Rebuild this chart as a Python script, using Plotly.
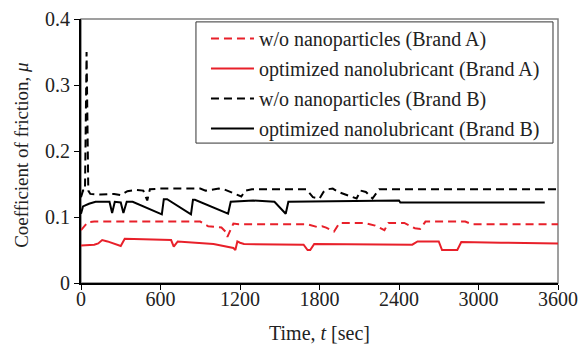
import plotly.graph_objects as go

# ---- data ----
t_A_wo = [0, 50, 100, 900, 960, 1010, 1060, 1090, 1105, 1150, 1190, 1710, 1780, 1820, 1850, 1910, 1950, 2140, 2220, 2290, 2320, 2440, 2520, 2560, 2600, 2900, 2950, 3600]
mu_A_wo = [0.080, 0.092, 0.093, 0.093, 0.086, 0.085, 0.084, 0.078, 0.070, 0.090, 0.089, 0.089, 0.085, 0.086, 0.084, 0.078, 0.091, 0.091, 0.087, 0.080, 0.091, 0.091, 0.083, 0.082, 0.093, 0.093, 0.089, 0.089]

t_A_opt = [0, 100, 130, 160, 200, 280, 300, 330, 680, 700, 730, 1000, 1150, 1165, 1180, 1200, 1230, 1680, 1710, 1730, 1760, 2500, 2540, 2700, 2725, 2840, 2870, 3170, 3600]
mu_A_opt = [0.057, 0.058, 0.060, 0.065, 0.063, 0.057, 0.056, 0.067, 0.065, 0.055, 0.063, 0.059, 0.053, 0.050, 0.063, 0.061, 0.059, 0.058, 0.050, 0.050, 0.059, 0.058, 0.063, 0.063, 0.050, 0.050, 0.062, 0.061, 0.060]

t_B_wo = [0, 15, 30, 42, 55, 70, 150, 250, 300, 350, 420, 470, 500, 520, 600, 900, 940, 990, 1040, 1080, 1130, 1210, 1240, 1290, 1700, 1750, 1800, 1830, 1860, 1900, 1940, 2080, 2110, 2150, 2200, 2250, 3600]
mu_B_wo = [0.130, 0.140, 0.140, 0.350, 0.140, 0.135, 0.134, 0.135, 0.133, 0.139, 0.141, 0.140, 0.125, 0.142, 0.143, 0.143, 0.140, 0.141, 0.143, 0.142, 0.138, 0.131, 0.140, 0.142, 0.142, 0.130, 0.128, 0.138, 0.142, 0.143, 0.138, 0.128, 0.140, 0.138, 0.128, 0.142, 0.142]

t_B_opt = [0, 15, 60, 110, 215, 235, 255, 300, 320, 345, 390, 610, 625, 650, 830, 845, 860, 1110, 1130, 1300, 1460, 1545, 1565, 2400, 2410, 3500]
mu_B_opt = [0.105, 0.116, 0.120, 0.123, 0.123, 0.106, 0.123, 0.122, 0.106, 0.123, 0.123, 0.104, 0.127, 0.127, 0.104, 0.126, 0.126, 0.105, 0.123, 0.125, 0.123, 0.105, 0.123, 0.125, 0.122, 0.122]

x_ticks = [0, 600, 1200, 1800, 2400, 3000, 3600]
y_ticks = [0, 0.1, 0.2, 0.3, 0.4]
y_tick_text = ["0", "0.1", "0.2", "0.3", "0.4"]

names = ["w/o nanoparticles (Brand A)", "optimized nanolubricant (Brand A)",
         "w/o nanoparticles (Brand B)", "optimized nanolubricant (Brand B)"]

RED = "#E8202A"
FONT = "Liberation Serif"
DASH = "8px,5px"
TXT = dict(family=FONT, size=19, color="#222")
TXT20 = dict(family=FONT, size=20, color="#222")

fig = go.Figure()
series = [
    (t_A_wo, mu_A_wo, RED, DASH),
    (t_A_opt, mu_A_opt, RED, "solid"),
    (t_B_wo, mu_B_wo, "black", DASH),
    (t_B_opt, mu_B_opt, "black", "solid"),
]
for i, (t, mu, c, d) in enumerate(series):
    fig.add_trace(go.Scatter(x=t, y=mu, mode="lines", name=names[i],
                             legendgroup=str(i),
                             line=dict(color=c, width=2, dash=d)))

fig.update_layout(
    width=581, height=347,
    margin=dict(l=81, r=23, t=19, b=64, autoexpand=False),
    paper_bgcolor="white", plot_bgcolor="white",
    font=TXT,
    showlegend=True,
    legend=dict(x=0.262, y=1.0, xanchor="left", yanchor="top",
                bgcolor="rgba(0,0,0,0)", borderwidth=0,
                font=TXT20, tracegroupgap=1, itemwidth=43),
    xaxis=dict(range=[0, 3600], tickvals=x_ticks, ticktext=[str(v) for v in x_ticks],
               automargin=False, tickfont=TXT20, ticklabelstandoff=-8,
               showgrid=False, zeroline=False, showline=True, linecolor="black", linewidth=2,
               ticks="outside", ticklen=5, tickcolor="black", tickwidth=1),
    yaxis=dict(range=[0, 0.4], tickvals=y_ticks, ticktext=y_tick_text,
               automargin=False, tickfont=TXT20,
               showgrid=False, zeroline=False, showline=True, linecolor="black", linewidth=2,
               ticks="outside", ticklen=5, tickcolor="black", tickwidth=1),
    shapes=[
        dict(type="rect", xref="paper", yref="paper", x0=0, x1=1, y0=0, y1=1,
             line=dict(color="#808080", width=1.5), layer="below"),
        dict(type="rect", xref="paper", yref="paper", x0=0.241, x1=0.9895, y0=0.530, y1=0.989,
             line=dict(color="#333", width=1), fillcolor="white", layer="below"),
    ],
    annotations=[
        dict(text="Time, <i>t</i> [sec]", xref="paper", yref="paper", x=0.5, y=-0.19,
             xanchor="center", yanchor="middle", showarrow=False, font=TXT20),
        dict(text="Coefficient of friction, <i>μ</i>", xref="paper", yref="paper",
             x=-0.124, y=0.485, xanchor="center", yanchor="middle", textangle=-90,
             showarrow=False, font=TXT),
    ],
)

fig.write_html("out.html", post_script="document.body.style.margin='0';",
               config={"displayModeBar": False})
